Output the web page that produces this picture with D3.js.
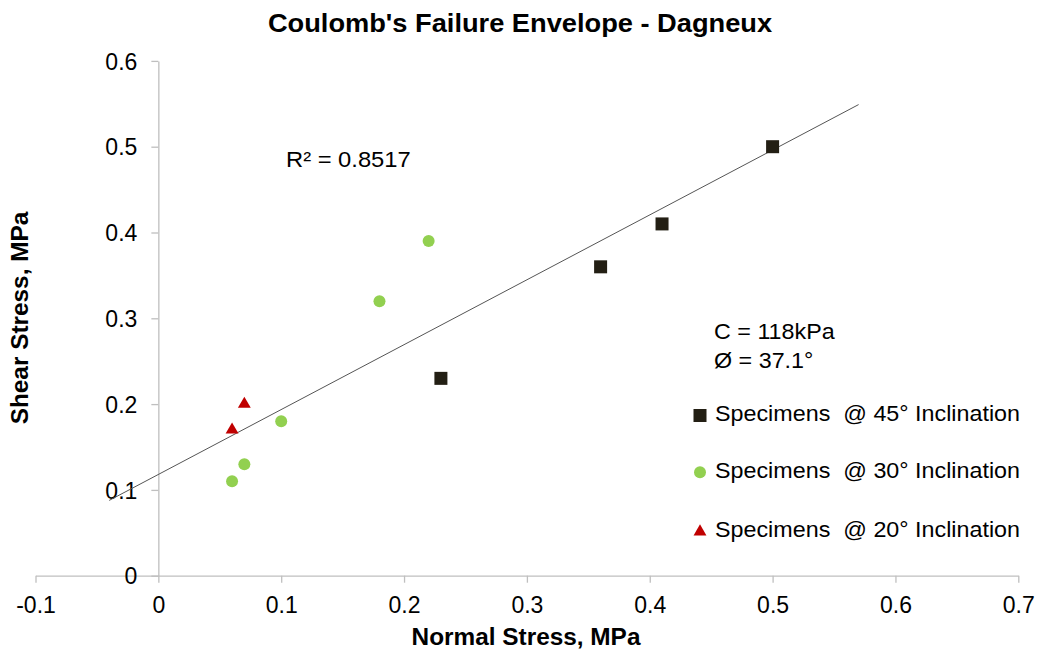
<!DOCTYPE html>
<html>
<head>
<meta charset="utf-8">
<script src="https://cdn.jsdelivr.net/npm/d3@7"></script>
<style>
  html, body { margin: 0; padding: 0; background: #fff; }
  svg text { font-family: "Liberation Sans", Arial, sans-serif; fill: #000; white-space: pre; }
</style>
</head>
<body>
<svg id="chart" width="1039" height="652"></svg>
<script>
// Direct shear test results (normal stress vs shear stress, MPa)
const normal45 = [0.50, 0.41, 0.36, 0.23];
const shear45  = [0.50, 0.41, 0.36, 0.23];
const normal30 = [0.22, 0.18, 0.10, 0.07, 0.06];
const shear30  = [0.39, 0.32, 0.18, 0.13, 0.11];
const normal20 = [0.06, 0.07];
const shear20  = [0.17, 0.20];

// Coulomb envelope parameters
const cohesionKPa = 118;
const frictionDeg = 37.1;
const rSquared = 0.8517;
const envelopeRange = [-0.04, 0.57];

const xTicks = [-0.1, 0, 0.1, 0.2, 0.3, 0.4, 0.5, 0.6, 0.7];
const yTicks = [0, 0.1, 0.2, 0.3, 0.4, 0.5, 0.6];

const legendLabels = [
  "Specimens  @ 45° Inclination",
  "Specimens  @ 30° Inclination",
  "Specimens  @ 20° Inclination"
];

const svg = d3.select("#chart");
const SX = 1.06; // slight horizontal stretch of the type

const x = d3.scaleLinear().domain([-0.1, 0.7]).range([35.5, 1018.3]);
const y = d3.scaleLinear().domain([0, 0.6]).range([575.7, 60.9]);
const fmt = d => String(+d.toFixed(1));

// axes
const xAxis = svg.append("g")
  .attr("transform", `translate(0,${y(0)})`)
  .call(d3.axisBottom(x).tickValues(xTicks).tickFormat(fmt).tickSize(7).tickSizeOuter(0).tickPadding(14));
const yAxis = svg.append("g")
  .attr("transform", `translate(${x(0)},0)`)
  .call(d3.axisLeft(y).tickValues(yTicks).tickFormat(fmt).tickSize(7).tickSizeOuter(0).tickPadding(14));

[xAxis, yAxis].forEach(g => {
  g.selectAll("path, line").attr("stroke", "#bfbfbf").attr("stroke-width", 1.3);
  g.selectAll("text").attr("font-size", 23).attr("font-family", "Liberation Sans, Arial, sans-serif").attr("fill", "#000");
});
yAxis.selectAll("text").attr("dy", "0.36em");

// envelope line: tau = c + sigma * tan(phi)
const c = cohesionKPa / 1000;
const tanPhi = Math.tan(frictionDeg * Math.PI / 180);
svg.append("line")
  .attr("x1", x(envelopeRange[0])).attr("y1", y(c + tanPhi * envelopeRange[0]))
  .attr("x2", x(envelopeRange[1])).attr("y2", y(c + tanPhi * envelopeRange[1]))
  .attr("stroke", "#555").attr("stroke-width", 1);

// markers
const SQ = 13;
const sqColor = "#231f14", green = "#92d050", red = "#c00000";
const tri = d3.symbol().type(d3.symbolTriangle).size(72);

svg.append("g").selectAll("rect").data(d3.zip(normal45, shear45)).join("rect")
  .attr("x", d => x(d[0]) - SQ / 2).attr("y", d => y(d[1]) - SQ / 2)
  .attr("width", SQ).attr("height", SQ).attr("fill", sqColor);

svg.append("g").selectAll("circle").data(d3.zip(normal30, shear30)).join("circle")
  .attr("cx", d => x(d[0])).attr("cy", d => y(d[1])).attr("r", 6).attr("fill", green);

svg.append("g").selectAll("path").data(d3.zip(normal20, shear20)).join("path")
  .attr("d", tri).attr("transform", d => `translate(${x(d[0])},${y(d[1])})`).attr("fill", red);

// text helper
function label(txt, px, py, size, opts = {}) {
  const rot = opts.rotate ? ` rotate(${opts.rotate})` : "";
  return svg.append("text")
    .attr("transform", `translate(${px},${py})${rot} scale(${opts.sx || SX},1)`)
    .attr("font-size", size)
    .attr("font-weight", opts.bold ? "bold" : "normal")
    .attr("text-anchor", opts.anchor || "start")
    .text(txt);
}

label("Coulomb's Failure Envelope - Dagneux", 520, 31.7, 25, { bold: true, anchor: "middle", sx: 1.09 });
label("Normal Stress, MPa", 526, 645, 23, { bold: true, anchor: "middle" });
label("Shear Stress, MPa", 27.5, 318, 23, { bold: true, anchor: "middle", rotate: -90 });

label(`R² = ${rSquared}`, 286, 166.5, 22, { sx: 1.08 });
label(`C = ${cohesionKPa}kPa`, 714, 339, 22);
label(`Ø = ${frictionDeg}°`, 714, 368.3, 22);

// legend
const legendY = [420.7, 478.3, 536.7];
const lg = svg.append("g");
lg.append("rect").attr("x", 700 - SQ / 2).attr("y", legendY[0] - 5.2 - SQ / 2).attr("width", SQ).attr("height", SQ).attr("fill", sqColor);
lg.append("circle").attr("cx", 700).attr("cy", legendY[1] - 6).attr("r", 6).attr("fill", green);
lg.append("path").attr("d", tri).attr("transform", `translate(700,${legendY[2] - 5})`).attr("fill", red);
legendLabels.forEach((t, i) => label(t, 715, legendY[i], 22));
</script>
</body>
</html>
